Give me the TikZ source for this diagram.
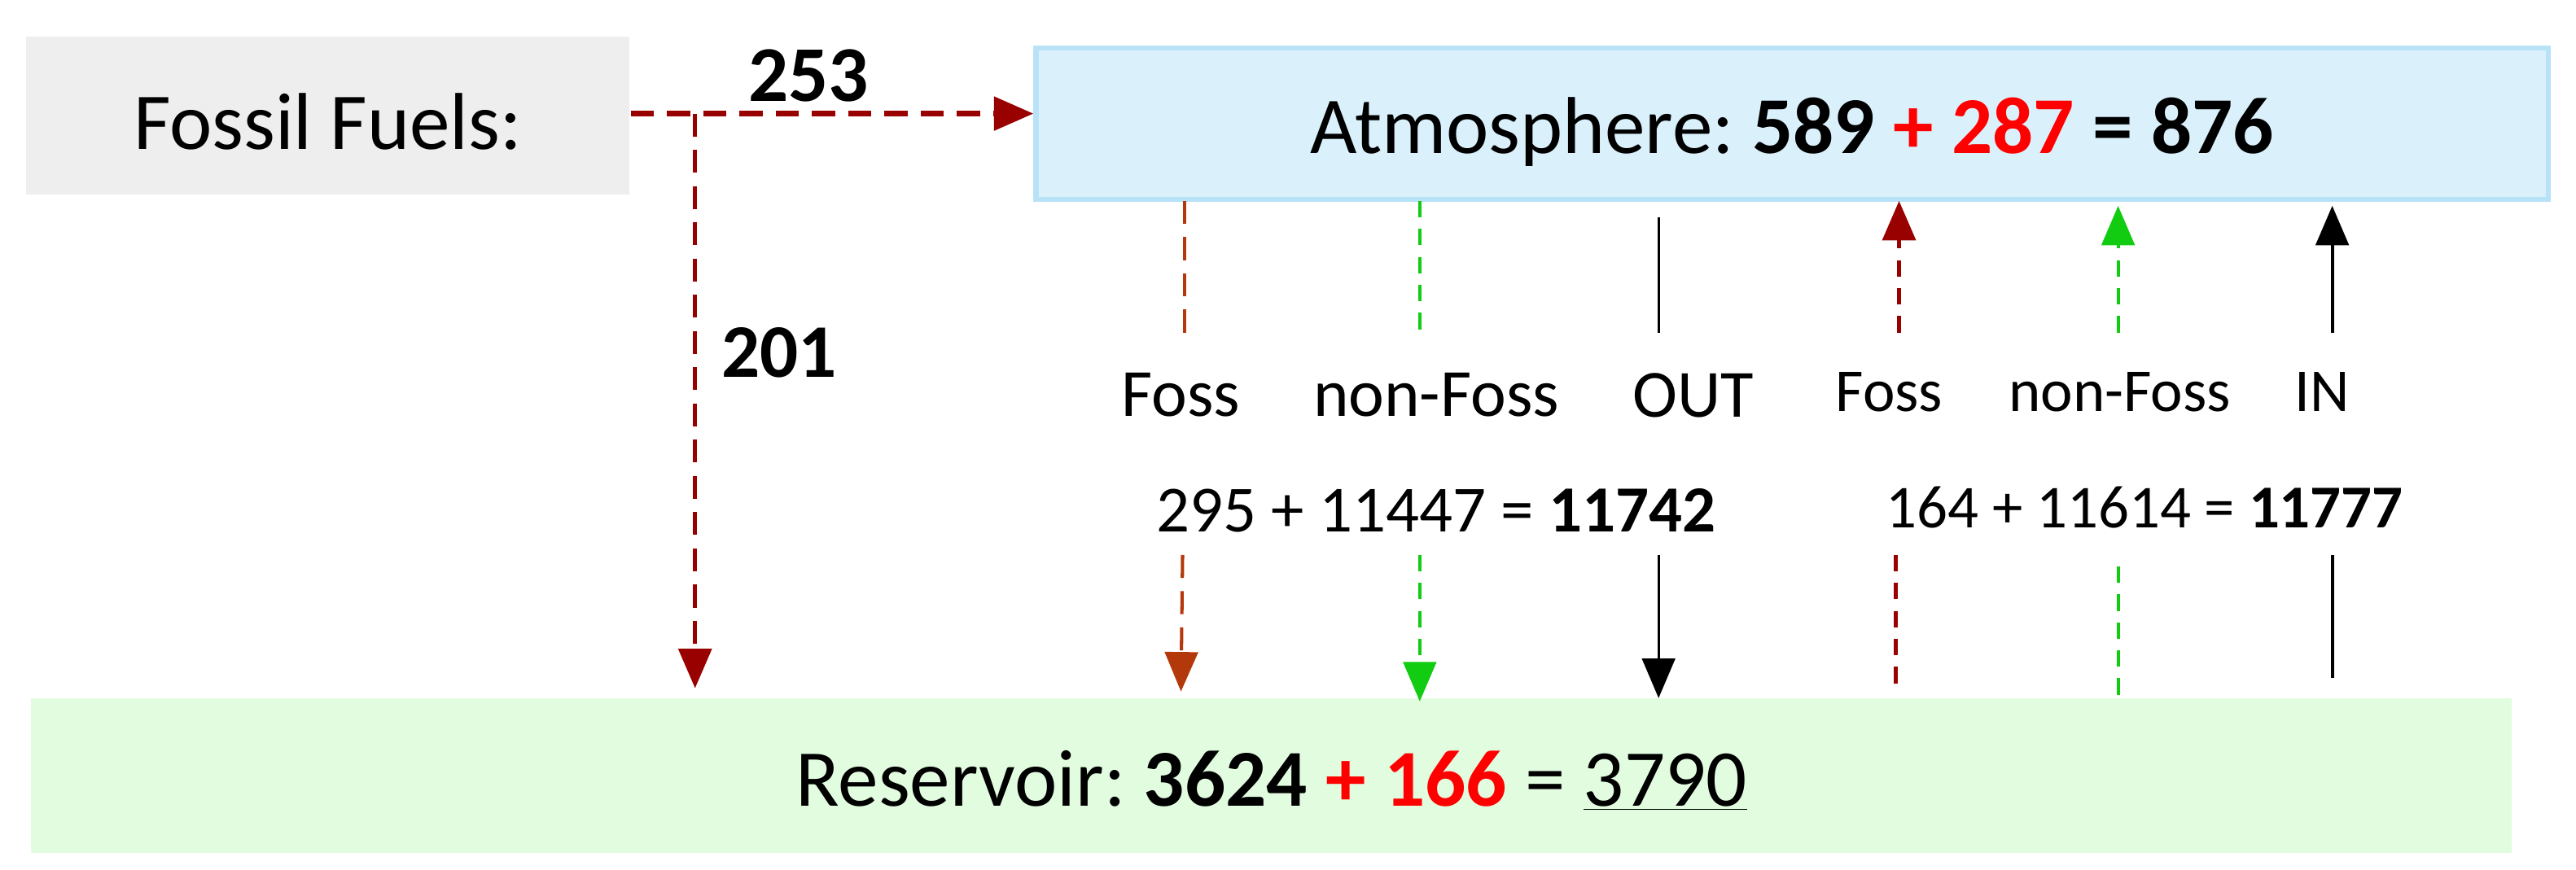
\documentclass[tikz,border=0pt]{standalone}
\usepackage{fontspec}
\setmainfont{Carlito}
\usetikzlibrary{arrows.meta}
\definecolor{dred}{HTML}{990000}
\definecolor{orng}{HTML}{B3380A}
\definecolor{grn}{HTML}{11CC11}
\definecolor{atm}{HTML}{DAF1FC}
\definecolor{atmb}{HTML}{B8E2F8}
\definecolor{res}{HTML}{E2FCE0}
\definecolor{foss}{HTML}{EEEEEE}
\begin{document}
\begin{tikzpicture}[x=1pt,y=-1pt,
  lbl/.style={font=\fontsize{41}{41}\selectfont},
  lbls/.style={font=\fontsize{37}{37}\selectfont},
  eq/.style={font=\fontsize{40}{40}\selectfont},
  eqs/.style={font=\fontsize{37}{37}\selectfont},
  big/.style={font=\fontsize{49}{49}\selectfont},
  tip/.style={-{Triangle[length=24pt,width=20pt]}},
  dsh/.style={dash pattern=on 14pt off 8pt},
  sdsh/.style={dash pattern=on 10pt off 7pt}]
\useasboundingbox (0,0) rectangle (1564,528);
\node[fill=foss,minimum width=366pt,minimum height=96pt,inner sep=0] (ff) at (199,70) {};
\node[big] at (199,74) {Fossil Fuels:};
\node[fill=atm,draw=atmb,line width=3pt,minimum width=918pt,minimum height=92pt,inner sep=0] (atm) at (1088,75) {};
\node[big] at (1088,80) {Atmosphere:~\textbf{589 \textcolor{red}{+ 287} = 876}};
\node[fill=res,minimum width=1506pt,minimum height=94pt,inner sep=0] (res) at (772,471) {};
\node[big] at (772,474) {Reservoir:~\textbf{3624 \textcolor{red}{+ 166}} = \underline{3790}};
\coordinate (s) at (383,69);
\coordinate (j) at (422,69);
\draw[dred,line width=3.5pt,dsh,tip] (s) -- (atm.west|-s);
\node[font=\bfseries\fontsize{48}{48}\selectfont] at (491,46) {253};
\draw[dred,line width=2.5pt,dsh,tip] (j) -- (422,418);
\node[font=\bfseries\fontsize{46}{46}\selectfont] at (473,214) {201};
% upper section
\draw[orng,line width=2pt,dsh] (719,122) -- (719,202);
\draw[grn,line width=2pt,sdsh] (862,122) -- (862,202);
\draw[black,line width=1.5pt] (1007,132) -- (1007,202);
\draw[dred,line width=2.5pt,sdsh,tip] (1153,202) -- (1153,122);
\draw[grn,line width=2pt,sdsh,tip] (1286,202) -- (1286,125);
\draw[black,line width=2pt,tip] (1416,202) -- (1416,125);
\node[lbl] at (717,240) {Foss};
\node[lbl] at (872,240) {non-Foss};
\node[lbl] at (1028,240) {OUT};
\node[lbls] at (1147,238) {Foss};
\node[lbls] at (1287,238) {non-Foss};
\node[lbls] at (1410,238) {IN};
\node[eq] at (872,310) {295 + 11447 = \textbf{11742}};
\node[eqs] at (1302,308) {164 + 11614 = \textbf{11777}};
% lower section
\draw[orng,line width=2pt,dsh,tip] (718,337) -- (717,420);
\draw[grn,line width=2pt,sdsh,tip] (862,337) -- (862,426);
\draw[black,line width=1.5pt,tip] (1007,337) -- (1007,424);
\draw[dred,line width=2.5pt,sdsh] (1151,337) -- (1151,418);
\draw[grn,line width=2pt,sdsh] (1286,344) -- (1286,424);
\draw[black,line width=2pt] (1416,337) -- (1416,412);
\end{tikzpicture}
\end{document}
